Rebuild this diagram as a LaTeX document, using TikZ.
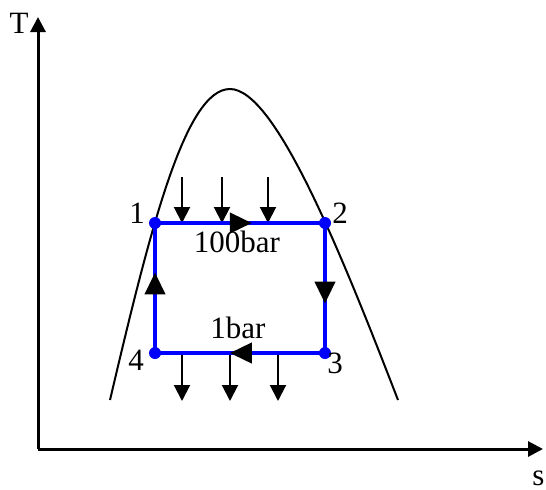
\documentclass[tikz,border=0pt]{standalone}
\usepackage{fontspec}
\setmainfont{Liberation Serif}
\usetikzlibrary{arrows.meta,decorations.markings}

\begin{document}
\begin{tikzpicture}[
  x=0.5pt, y=-0.5pt,
  axis/.style={line width=1.5pt, -{Triangle[length=7.5pt,width=7.5pt]}},
  dome/.style={line width=1pt},
  cyc/.style={line width=2pt, blue, postaction={decorate}},
  heat/.style={line width=1pt, -{Triangle[length=8pt,width=8pt]}},
  dir/.style={decoration={markings, mark=at position #1 with
              {\arrow[black]{Triangle[length=11pt,width=10pt]}}}},
  lbl/.style={font=\fontsize{15.5}{18}\selectfont, inner sep=0pt, anchor=base},
]
\useasboundingbox (0,0) rectangle (546,489);

% axes
\coordinate (o) at (38,449);
\coordinate (ty) at (38,17);
\coordinate (sx) at (543,449);
\draw[axis] (o) -- (ty);
\draw[axis] (o) -- (sx);
\node[lbl] (tl) at (19,33) {T};
\node[lbl, anchor=base west] (sl) at (532,485) {s};

% saturation dome
\coordinate (dl) at (110,400);
\coordinate (dtop) at (230,89);
\coordinate (dr) at (398,400);
\draw[dome] (dl) .. controls (150,230) and (185,89) .. (dtop)
                 .. controls (275,89) and (340,250) .. (dr);

% heat in / heat out
\foreach \x [count=\i] in {182,222,268} {
  \coordinate (qa\i) at (\x,177);
  \coordinate (qb\i) at (\x,223);
  \draw[heat] (qa\i) -- (qb\i);
}
\foreach \x [count=\i] in {182,230,278} {
  \coordinate (qc\i) at (\x,353);
  \coordinate (qd\i) at (\x,401);
  \draw[heat] (qc\i) -- (qd\i);
}

% cycle
\coordinate (p1) at (155,223);
\coordinate (p2) at (325,223);
\coordinate (p3) at (325,353);
\coordinate (p4) at (155,353);
\draw[cyc, dir=0.57] (p1) -- (p2);
\draw[cyc, dir=0.62] (p2) -- (p3);
\draw[cyc, dir=0.56] (p3) -- (p4);
\draw[cyc, dir=0.62] (p4) -- (p1);
\foreach \p in {p1,p2,p3,p4}
  \fill[blue] (\p) circle (3pt);

\node[lbl] (n1) at (137,223) {1};
\node[lbl] (n2) at (340,223) {2};
\node[lbl] (n3) at (335,373) {3};
\node[lbl] (n4) at (136,370) {4};
\node[lbl] (hp) at (237,252) {100bar};
\node[lbl] (lp) at (238,338) {1bar};
\end{tikzpicture}
\end{document}
